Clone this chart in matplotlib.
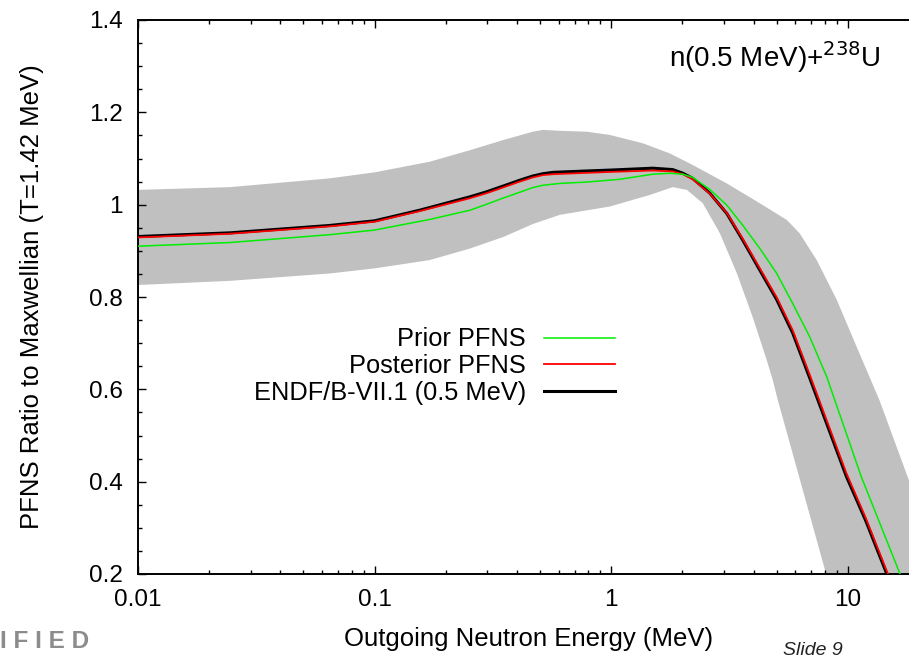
import matplotlib
matplotlib.use("Agg")
import matplotlib.pyplot as plt
import numpy as np
from matplotlib.ticker import FixedLocator, FixedFormatter, LogLocator, NullFormatter, MultipleLocator

plt.rcParams['font.family'] = ['Liberation Sans', 'DejaVu Sans']

# uncertainty band (upper and lower edge)
band_e_hi = [0.01, 0.0245, 0.0647, 0.1, 0.171, 0.253, 0.35, 0.466, 0.514, 0.607, 0.789, 0.987,
             1.36, 1.77, 2.21, 3.08, 4.25, 5.52, 6.26, 7.39, 8.98, 11.2, 13.6, 18.1, 20.0]
band_hi = [1.032, 1.038, 1.057, 1.070, 1.093, 1.118, 1.140, 1.158, 1.162, 1.160, 1.158, 1.151,
           1.133, 1.111, 1.086, 1.046, 1.003, 0.967, 0.938, 0.880, 0.794, 0.678, 0.577, 0.404, 0.36]
band_e_lo = [0.01, 0.0245, 0.0647, 0.1, 0.171, 0.253, 0.35, 0.466, 0.607, 0.987, 1.455,
             1.82, 2.09, 2.44, 2.88, 3.40, 3.96, 4.54, 4.82, 5.06, 8.05, 9.0, 20.0]
band_lo = [0.826, 0.835, 0.851, 0.862, 0.880, 0.905, 0.930, 0.958, 0.978, 0.996, 1.021,
           1.038, 1.032, 1.003, 0.938, 0.851, 0.757, 0.664, 0.620, 0.577, 0.205, 0.12, 0.12]

# ENDF/B-VII.1 (0.5 MeV)
endf_e = [0.01, 0.0245, 0.0647, 0.1, 0.155, 0.253, 0.298, 0.348, 0.411, 0.466, 0.514, 0.567,
          0.789, 1.0, 1.5, 1.82, 2.01, 2.21, 2.61, 3.08, 3.59, 4.25, 5.01, 5.85, 6.90, 9.87,
          11.9, 14.6, 16.0]
endf = [0.931, 0.939, 0.955, 0.965, 0.988, 1.017, 1.028, 1.040, 1.053, 1.062, 1.067, 1.070,
        1.073, 1.075, 1.079, 1.076, 1.068, 1.057, 1.025, 0.981, 0.924, 0.858, 0.794, 0.722,
        0.625, 0.411, 0.316, 0.201, 0.15]

# posterior PFNS
post_e = endf_e
post = [0.929, 0.937, 0.953, 0.963, 0.986, 1.014, 1.025, 1.037, 1.050, 1.059, 1.064, 1.066,
        1.069, 1.071, 1.074, 1.072, 1.066, 1.055, 1.024, 0.982, 0.927, 0.862, 0.799, 0.728,
        0.632, 0.418, 0.322, 0.207, 0.16]

# prior PFNS
prior_e = [0.01, 0.0245, 0.0647, 0.1, 0.171, 0.253, 0.298, 0.348, 0.411, 0.466, 0.514, 0.607,
           0.789, 1.087, 1.5, 1.77, 2.01, 2.21, 2.61, 3.08, 3.59, 4.25, 5.01, 5.85, 6.90,
           8.15, 11.4, 16.6, 20.0]
prior = [0.910, 0.918, 0.935, 0.945, 0.968, 0.988, 1.001, 1.014, 1.027, 1.037, 1.042, 1.046,
         1.049, 1.055, 1.066, 1.068, 1.066, 1.059, 1.033, 0.999, 0.956, 0.905, 0.851, 0.786,
         0.714, 0.627, 0.411, 0.201, 0.14]

fig = plt.figure(figsize=(9.09, 6.58), dpi=100)
# right edge of the frame lies outside the picture (cropped slide)
ax = fig.add_axes([138 / 909, 84 / 658, 781 / 909, 554 / 658])

ax.fill(np.concatenate([band_e_hi, band_e_lo[::-1]]),
        np.concatenate([band_hi, band_lo[::-1]]),
        color='#c0c0c0', lw=0, zorder=1)

ax.plot(endf_e, endf, color='black', lw=2.2, zorder=3, label='ENDF/B-VII.1 (0.5 MeV)')
ax.plot(post_e, post, color='#ff0000', lw=1.3, zorder=4, label='Posterior PFNS')
ax.plot(prior_e, prior, color='#00ee00', lw=1.1, zorder=5, label='Prior PFNS')

ax.set_xscale('log')
ax.set_xlim(0.01, 20)
ax.set_ylim(0.2, 1.4)

ax.xaxis.set_major_locator(FixedLocator([0.01, 0.1, 1, 10]))
ax.xaxis.set_major_formatter(FixedFormatter(['0.01', '0.1', '1', '10']))
ax.xaxis.set_minor_locator(LogLocator(base=10, subs=np.arange(2, 10)))
ax.xaxis.set_minor_formatter(NullFormatter())
ax.yaxis.set_major_locator(FixedLocator([0.2, 0.4, 0.6, 0.8, 1.0, 1.2, 1.4]))
ax.yaxis.set_major_formatter(FixedFormatter(['0.2', '0.4', '0.6', '0.8', '1', '1.2', '1.4']))
ax.yaxis.set_minor_locator(MultipleLocator(0.05))

ax.tick_params(which='both', direction='in', top=True, right=True, width=1.0, labelsize=17.5)
ax.tick_params(which='major', length=6)
ax.tick_params(which='minor', length=3)
ax.tick_params(axis='x', which='major', pad=11)
ax.tick_params(axis='y', which='major', pad=11)
for s in ax.spines.values():
    s.set_linewidth(1.4)

ax.set_xlabel('Outgoing Neutron Energy (MeV)', fontsize=18.5, labelpad=11)
ax.set_ylabel('PFNS Ratio to Maxwellian (T=1.42 MeV)', fontsize=18.5, labelpad=32)

h, l = ax.get_legend_handles_labels()
order = [2, 1, 0]
ax.legend([h[i] for i in order], [l[i] for i in order], loc='center right',
          bbox_to_anchor=(615 / 909, 1 - 366 / 658), bbox_transform=fig.transFigure,
          frameon=False, markerfirst=False, fontsize=18.3, handlelength=2.8,
          handletextpad=0.7, labelspacing=0.1, borderpad=0, borderaxespad=0)

fig.text(880 / 909, 1 - 67 / 658, 'n(0.5 MeV)+$^{238}$U', ha='right', va='baseline', fontsize=20)
fig.text(0.0, 1 - 648 / 658, 'I F I E D', ha='left', va='baseline', fontsize=17.5,
         fontweight='bold', color='#8c8c8c')
fig.text(783 / 909, 1 - 655 / 658, 'Slide 9', ha='left', va='baseline', fontsize=14,
         style='italic', color='#222222')

fig.savefig('out.png', dpi=100)
